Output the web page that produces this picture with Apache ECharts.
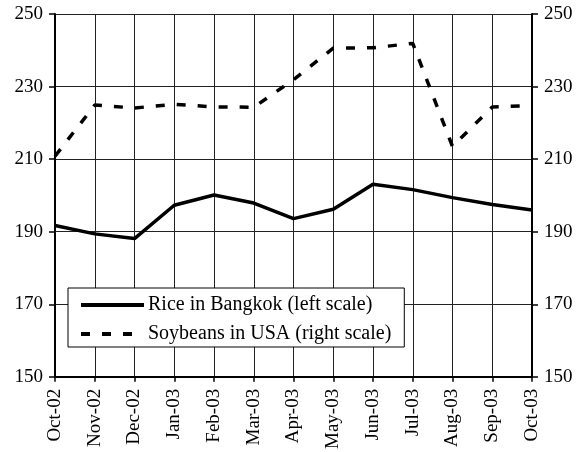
<!DOCTYPE html>
<html>
<head>
<meta charset="utf-8">
<script src="https://cdn.jsdelivr.net/npm/echarts@6/dist/echarts.min.js"></script>
<style>
  html, body { margin: 0; padding: 0; background: #fff; }
  #chart { width: 583px; height: 452px; }
</style>
</head>
<body>
<div id="chart"></div>
<script>
const months = ['Oct-02', 'Nov-02', 'Dec-02', 'Jan-03', 'Feb-03', 'Mar-03', 'Apr-03',
  'May-03', 'Jun-03', 'Jul-03', 'Aug-03', 'Sep-03', 'Oct-03'];
const rice = [191.7, 189.4, 188.1, 197.3, 200.1, 197.9, 193.6, 196.2, 203.1, 201.6, 199.4, 197.5, 196.0];
const soybeans = [210.8, 224.9, 224.1, 225.1, 224.4, 224.3, 231.9, 240.6, 240.7, 241.9, 213.5, 224.4, 224.8];

const font = 'Liberation Serif';

const chart = echarts.init(document.getElementById('chart'));
const yAxisBase = {
  type: 'value',
  min: 150,
  max: 250,
  interval: 20,
  axisLine: { show: true, lineStyle: { color: '#000', width: 2 } },
  axisTick: { show: true, length: 6, lineStyle: { color: '#000', width: 1.5 } },
  axisLabel: { color: '#000', fontFamily: font, fontSize: 19, margin: 12 }
};
chart.setOption({
  animation: false,
  grid: { left: 55, right: 51, top: 14, bottom: 74 },
  legend: {
    orient: 'vertical',
    left: 68,
    top: 288,
    padding: [7, 13, 3, 11],
    itemGap: 9,
    itemWidth: 63,
    itemHeight: 16,
    backgroundColor: '#fff',
    borderColor: '#000',
    borderWidth: 1,
    itemStyle: { opacity: 0 },
    lineStyle: { width: 4 },
    textStyle: { color: '#000', fontFamily: font, fontSize: 20, lineHeight: 20, padding: [0, 0, 0, -1] },
    data: ['Rice in Bangkok (left scale)', 'Soybeans in USA (right scale)']
  },
  xAxis: {
    type: 'category',
    data: months,
    boundaryGap: false,
    axisLine: { lineStyle: { color: '#000', width: 2 } },
    axisTick: { show: true, length: 5, lineStyle: { color: '#000', width: 1.5 } },
    axisLabel: { rotate: 90, color: '#000', fontFamily: font, fontSize: 19, margin: 12, interval: 0 },
    splitLine: { show: true, lineStyle: { color: '#222', width: 1 } }
  },
  yAxis: [
    Object.assign({}, yAxisBase, {
      position: 'left',
      splitLine: { show: true, lineStyle: { color: '#222', width: 1 } }
    }),
    Object.assign({}, yAxisBase, {
      position: 'right',
      splitLine: { show: false }
    })
  ],
  series: [
    {
      name: 'Rice in Bangkok (left scale)',
      type: 'line',
      data: rice,
      yAxisIndex: 0,
      symbol: 'none',
      lineStyle: { color: '#000', width: 3.5 },
      itemStyle: { color: '#000' }
    },
    {
      name: 'Soybeans in USA (right scale)',
      type: 'line',
      data: soybeans,
      yAxisIndex: 1,
      symbol: 'none',
      lineStyle: { color: '#000', width: 3.5, type: [9, 12] },
      itemStyle: { color: '#000' }
    }
  ]
});
</script>
</body>
</html>
